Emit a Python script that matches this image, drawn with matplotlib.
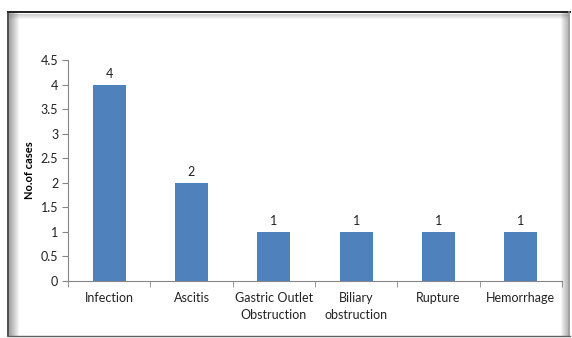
import numpy as np
import matplotlib.pyplot as plt
from matplotlib.lines import Line2D

categories = ["Infection", "Ascitis", "Gastric Outlet\nObstruction",
              "Biliary\nobstruction", "Rupture", "Hemorrhage"]
cases = [4, 2, 1, 1, 1, 1]
yticks = [0, 0.5, 1, 1.5, 2, 2.5, 3, 3.5, 4, 4.5]
ytick_labels = ["0", "0.5", "1", "1.5", "2", "2.5", "3", "3.5", "4", "4.5"]

W, H = 572, 338
plt.rcParams['font.family'] = ['Lato', 'DejaVu Sans']
fig = plt.figure(figsize=(W / 100, H / 100), dpi=100)

# picture frame with soft shadow
def px(x, y):
    return x / W, 1 - y / H

def fline(x0, y0, x1, y1, color, lw=1.0, alpha=1.0):
    a, b = px(x0, y0)
    c, d = px(x1, y1)
    fig.add_artist(Line2D([a, c], [b, d], color=color, lw=lw, alpha=alpha,
                          transform=fig.transFigure))

for i in range(10):
    fline(9 + i, 13, 9 + i, 335, "#606060", lw=0.8, alpha=0.55 * (1 - i / 10))
for i in range(5):
    fline(9, 14 + i, 568, 14 + i, "#808080", lw=0.8, alpha=0.35 * (1 - i / 5))
for i in range(7):
    fline(567 - i, 13, 567 - i, 335, "#707070", lw=0.8, alpha=0.45 * (1 - i / 7))
fline(8, 12, 570, 12, "#202020", lw=1.4)
fline(8, 12, 8, 336, "#303030", lw=1.2)
fline(569, 12, 569, 336, "#909090", lw=1.2)
fline(8, 335.5, 570, 335.5, "#606060", lw=1.0)

ax = fig.add_axes([68 / W, 1 - 281 / H, (562 - 68) / W, (281 - 60) / H])
x = np.arange(len(categories)) + 0.5
ax.bar(x, cases, width=0.4, color="#4F81BD", zorder=3)
for xi, v in zip(x, cases):
    ax.text(xi, v + 0.1, str(v), ha="center", va="bottom", fontsize=9, color="#222222")

ax.set_xlim(0, len(categories))
ax.set_ylim(0, 4.5)
ax.set_yticks(yticks)
ax.set_yticklabels(ytick_labels)
ax.set_xticks(x)
ax.set_xticklabels(categories, linespacing=1.45)
ax.set_xticks(np.arange(len(categories) + 1), minor=True)
ax.tick_params(axis="x", which="major", length=0, pad=8, labelsize=9, labelcolor="#222222")
ax.tick_params(axis="x", which="minor", length=4, color="#868686", direction="out")
ax.tick_params(axis="y", length=4, color="#868686", labelsize=9, labelcolor="#222222", pad=3)

for s in ["top", "right"]:
    ax.spines[s].set_visible(False)
for s in ["left", "bottom"]:
    ax.spines[s].set_color("#868686")

ax.set_ylabel("No.of cases", fontsize=8, fontweight="bold")
ax.yaxis.set_label_coords(-0.066, 0.5)

fig.savefig("out.png", dpi=100)
